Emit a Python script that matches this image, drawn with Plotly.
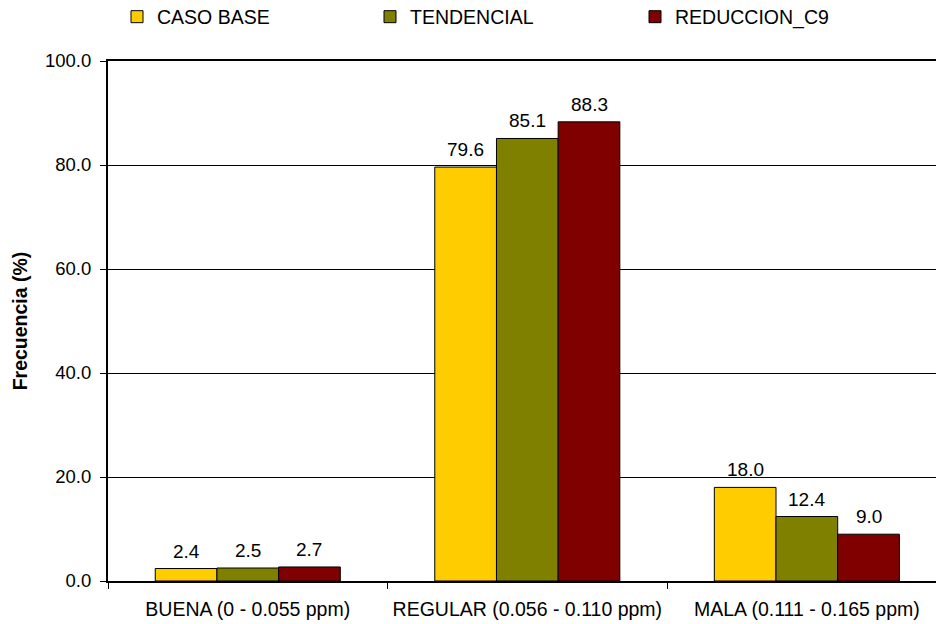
import plotly.graph_objects as go

categories = ["BUENA (0 - 0.055 ppm)", "REGULAR (0.056 - 0.110 ppm)", "MALA (0.111 - 0.165 ppm)"]
series_names = ["CASO BASE", "TENDENCIAL", "REDUCCION_C9"]
caso_base = [2.4, 79.6, 18.0]
tendencial = [2.5, 85.1, 12.4]
reduccion_c9 = [2.7, 88.3, 9.0]
colors = ["#FFCC00", "#808000", "#800000"]
y_ticks = [0, 20, 40, 60, 80, 100]

FONT = "Liberation Sans, Arial, sans-serif"
series = [caso_base, tendencial, reduccion_c9]
legend_ids = ["legend", "legend2", "legend3"]
legend_text_x = [157, 410, 675]

BARGAP = 0.338
bar_w = (1 - BARGAP) / 3

fig = go.Figure()
annotations = []
for i, (name, vals, col) in enumerate(zip(series_names, series, colors)):
    fig.add_trace(go.Bar(
        name=name, x=categories, y=vals,
        marker=dict(color=col, line=dict(color="black", width=1)),
        legend=legend_ids[i],
    ))
    off = (i - 1) * bar_w
    for j, v in enumerate(vals):
        annotations.append(dict(
            x=j + off, y=v, xref="x", yref="y", text=f"{v:.1f}",
            showarrow=False, yanchor="bottom", yshift=5,
            font=dict(family=FONT, size=19, color="black"),
        ))

legend_common = dict(
    orientation="h", xref="container", yref="container",
    yanchor="middle", xanchor="left", y=1 - 17 / 624,
    font=dict(family=FONT, size=19.5, color="black"),
    bgcolor="rgba(0,0,0,0)", borderwidth=0,
)
layout_legends = {}
for lid, tx in zip(legend_ids, legend_text_x):
    layout_legends[lid] = dict(legend_common, x=(tx - 40) / 936)

fig.update_layout(
    width=936, height=624,
    margin=dict(l=108, r=0, t=61, b=43, autoexpand=False),
    paper_bgcolor="white", plot_bgcolor="white",
    barmode="group", bargap=BARGAP, bargroupgap=0,
    font=dict(family=FONT, color="black"),
    annotations=annotations,
    showlegend=True,
    **layout_legends,
)
fig.update_xaxes(
    type="category", range=[-0.5, 2.462], automargin=False,
    showline=True, linecolor="black", linewidth=2, mirror=True,
    ticks="outside", tickson="boundaries", ticklen=6, tickcolor="black", tickwidth=1,
    tickfont=dict(family=FONT, size=19.5, color="black"),
    ticklabelstandoff=10,
    showgrid=False, zeroline=False,
)
fig.update_yaxes(
    range=[0, 100], tickvals=y_ticks, tickformat=".1f", automargin=False,
    showline=True, linecolor="black", linewidth=2,
    ticks="outside", ticklen=6, tickcolor="black", tickwidth=1,
    tickfont=dict(family=FONT, size=18.5, color="black"),
    ticklabelstandoff=5,
    showgrid=True, gridcolor="black", gridwidth=1, zeroline=False,
    title=dict(text="<b>Frecuencia (%)</b>", font=dict(family=FONT, size=19.5, color="black"), standoff=12),
)

fig.write_html(
    "out.html",
    config={"displayModeBar": False},
    post_script="document.body.style.margin='0';document.body.style.overflow='hidden';",
)
